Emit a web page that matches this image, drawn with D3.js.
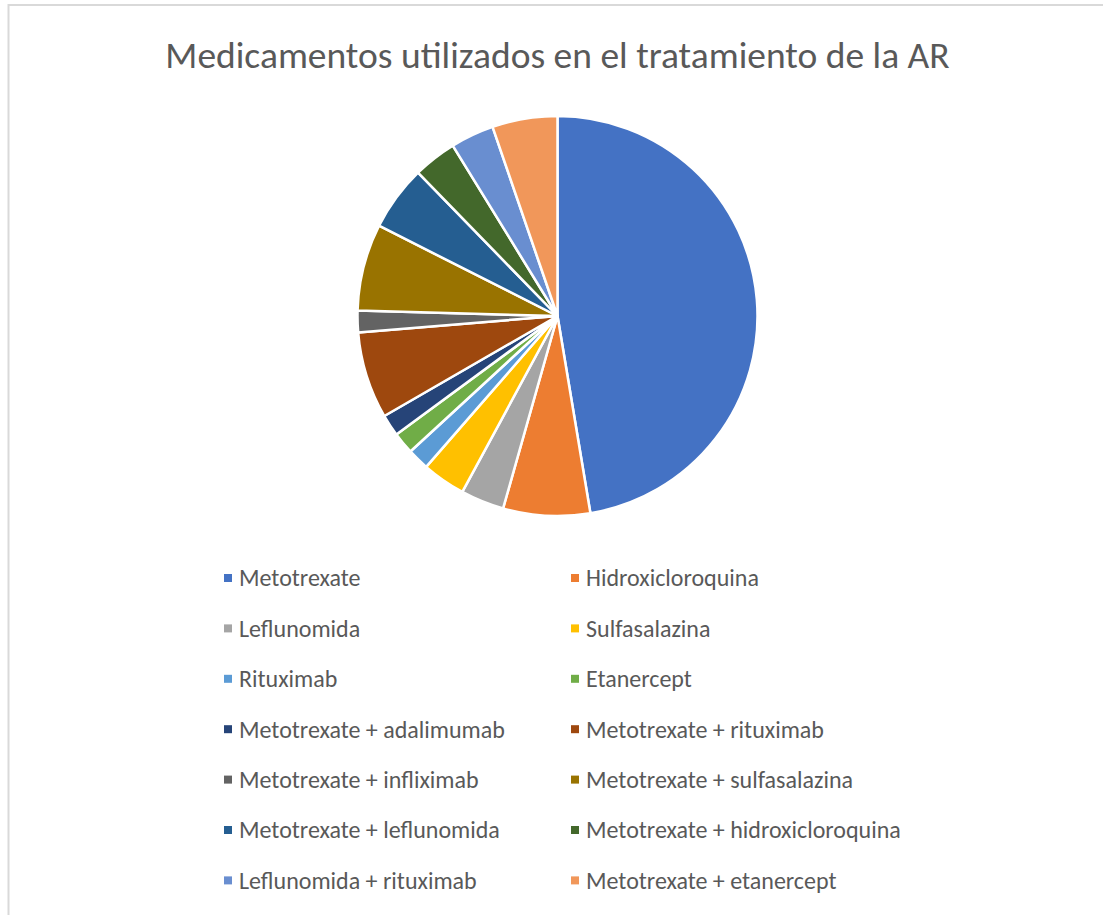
<!DOCTYPE html>
<html>
<head>
<meta charset="utf-8">
<script src="https://cdn.jsdelivr.net/npm/d3@7"></script>
<style>
    html, body { margin: 0; padding: 0; background: #fff; }
    svg { display: block; }
</style>
</head>
<body>
<div id="chart"></div>
<script>
// Medicamentos utilizados en el tratamiento de la AR (counts)
const categories = [
    'Metotrexate', 'Hidroxicloroquina', 'Leflunomida', 'Sulfasalazina',
    'Rituximab', 'Etanercept', 'Metotrexate + adalimumab', 'Metotrexate + rituximab',
    'Metotrexate + infliximab', 'Metotrexate + sulfasalazina', 'Metotrexate + leflunomida',
    'Metotrexate + hidroxicloroquina', 'Leflunomida + rituximab', 'Metotrexate + etanercept'
];
const values = [27, 4, 2, 2, 1, 1, 1, 4, 1, 4, 3, 2, 2, 3];
const colors = [
    '#4472c4', '#ed7d31', '#a5a5a5', '#ffc000', '#5b9bd5', '#70ad47', '#264478',
    '#9e480e', '#636363', '#997300', '#255e91', '#43682b', '#698ed0', '#f1975a'
];
const title = 'Medicamentos utilizados en el tratamiento de la AR';

const width = 1103,
    height = 915,
    cx = 557.5,
    cy = 316,
    radius = 200,
    font = 'Carlito, Calibri, "Open Sans", sans-serif',
    textColor = '#595959';

const svg = d3.select('#chart').append('svg')
    .attr('width', width)
    .attr('height', height);

// chart area border (only top and left visible in the crop)
svg.append('rect')
    .attr('x', 8.5)
    .attr('y', 5)
    .attr('width', 1200)
    .attr('height', 1000)
    .attr('fill', '#fff')
    .attr('stroke', '#d9d9d9')
    .attr('stroke-width', 2);

svg.append('text')
    .attr('x', cx)
    .attr('y', 68)
    .attr('text-anchor', 'middle')
    .attr('font-family', font)
    .attr('font-size', 37.5)
    .attr('fill', textColor)
    .text(title);

const colorScale = d3.scaleOrdinal().domain(categories).range(colors);

const pie = d3.pie()
    .sort(null)
    .value(d => d.value);

const arc = d3.arc()
    .innerRadius(0)
    .outerRadius(radius);

const data = categories.map((c, i) => ({ name: c, value: values[i] }));

svg.append('g')
    .attr('transform', `translate(${cx},${cy})`)
    .selectAll('path')
    .data(pie(data))
    .enter()
    .append('path')
    .attr('d', arc)
    .attr('fill', d => colorScale(d.data.name))
    .attr('stroke', '#fff')
    .attr('stroke-width', 2.5)
    .attr('stroke-linejoin', 'round');

// legend: two columns, row by row
const colX = [224, 571],
    rowY0 = 578,
    rowStep = 50.4;

const legend = svg.append('g');

const items = legend.selectAll('g')
    .data(categories)
    .enter()
    .append('g')
    .attr('transform', (d, i) => `translate(${colX[i % 2]},${rowY0 + Math.floor(i / 2) * rowStep})`);

items.append('rect')
    .attr('x', 0)
    .attr('y', -4)
    .attr('width', 8)
    .attr('height', 8)
    .attr('fill', d => colorScale(d));

items.append('text')
    .attr('x', 15)
    .attr('y', 0)
    .attr('dy', '0.35em')
    .attr('font-family', font)
    .attr('font-size', 24)
    .attr('fill', textColor)
    .text(d => d);
</script>
</body>
</html>
